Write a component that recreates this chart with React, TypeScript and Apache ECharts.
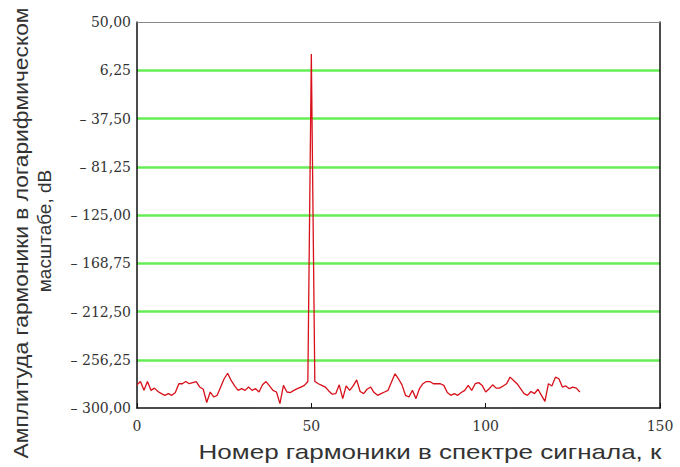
import React, { useEffect, useRef } from "react";
import * as echarts from "echarts";

// Amplitude (dB) of harmonics k = 0..127
const amplitudeDb: number[] = [
  -279, -276, -284, -276, -284, -282, -285, -287, -288.5, -287,
  -288.5, -286, -278, -278, -276, -278, -277, -276, -281, -283,
  -295, -285.5, -290, -288.5, -281, -273.5, -268.5, -275, -280, -284,
  -282.5, -284, -281, -284, -282.5, -285.5, -279, -276, -280, -284,
  -285.5, -296, -279.5, -285.5, -286, -284, -282.5, -281, -279.5, -276,
  21, -276, -278, -279.5, -281, -284.5, -287.5, -287, -279, -291.5,
  -280, -284, -280, -274.5, -285, -287, -283, -281, -286, -288.5,
  -287, -285.5, -284, -276.5, -269, -273.5, -279, -288.5, -290, -284,
  -291.5, -282.5, -278, -276, -276, -278, -278, -278, -279.5, -286,
  -288.5, -287, -288.5, -286, -284, -279.5, -284, -278, -277, -279.5,
  -285.5, -282.5, -279, -282, -282, -280, -278, -272, -275, -278,
  -282.5, -287, -288.5, -285, -287, -283, -288.5, -294, -278, -280,
  -272, -273.5, -281, -280, -282.5, -281, -282, -285.5,
];

const yMin = -300;
const yMax = 50;
const yStep = 43.75;
const xMin = 0;
const xMax = 150;
const xStep = 50;

const yTitleLine1 = "Амплитуда гармоники в логарифмическом";
const yTitleLine2 = "масштабе, dB";
const xTitle = "Номер гармоники в спектре сигнала, к";

const serif = "DejaVu Serif";
const sans = "Liberation Sans";

function fmtY(v: number): string {
  const s = Math.abs(v).toFixed(2).replace(".", ",");
  return v < 0 ? "– " + s : s;
}

export default function App() {
  const ref = useRef<HTMLDivElement>(null);
  useEffect(() => {
    if (!ref.current) return;
    const chart = echarts.init(ref.current, null, { renderer: "svg" });
    const seriesData = amplitudeDb.map((v, k) => [k, v]);
    chart.setOption({
      animation: false,
      backgroundColor: "#ffffff",
      grid: { left: 137, right: 20, top: 22, bottom: 59, containLabel: false },
      xAxis: [
        {
          type: "value",
          min: xMin,
          max: xMax,
          interval: xStep,
          axisLine: { show: true, onZero: false, lineStyle: { color: "#111", width: 1.5 } },
          axisTick: { show: true, inside: true, length: 5, lineStyle: { color: "#111" } },
          axisLabel: {
            margin: 11,
            color: "#333",
            fontFamily: serif,
            fontSize: 14,
          },
          splitLine: { show: false },
        },
        {
          type: "value",
          position: "top",
          min: xMin,
          max: xMax,
          axisLine: { show: true, onZero: false, lineStyle: { color: "#888", width: 1 } },
          axisTick: { show: false },
          axisLabel: { show: false },
          splitLine: { show: false },
        },
      ],
      yAxis: [
        {
          type: "value",
          min: yMin,
          max: yMax,
          interval: yStep,
          axisLine: { show: true, onZero: false, lineStyle: { color: "#111", width: 1.5 } },
          axisTick: { show: false },
          axisLabel: {
            margin: 6,
            color: "#333",
            fontFamily: serif,
            fontSize: 14,
            formatter: (v: number) => fmtY(v),
          },
          splitLine: {
            show: true,
            showMinLine: false,
            showMaxLine: false,
            lineStyle: { color: "#66ee55", width: 2.5 },
          },
        },
        {
          type: "value",
          position: "right",
          min: yMin,
          max: yMax,
          axisLine: { show: true, onZero: false, lineStyle: { color: "#111", width: 1.5 } },
          axisTick: { show: false },
          axisLabel: { show: false },
          splitLine: { show: false },
        },
      ],
      series: [
        {
          type: "line",
          xAxisIndex: 0,
          yAxisIndex: 0,
          data: seriesData,
          showSymbol: false,
          symbol: "none",
          lineStyle: { color: "#d8101a", width: 1.3 },
        },
      ],
      graphic: [
        {
          type: "text",
          x: 21,
          y: 233,
          rotation: Math.PI / 2,
          scaleX: 1.14,
          style: {
            text: yTitleLine1,
            fontFamily: sans,
            fontSize: 20,
            fill: "#333",
            align: "center",
            verticalAlign: "middle",
          },
        },
        {
          type: "text",
          x: 44,
          y: 231,
          rotation: Math.PI / 2,
          style: {
            text: yTitleLine2,
            fontFamily: sans,
            fontSize: 19,
            fill: "#333",
            align: "center",
            verticalAlign: "middle",
          },
        },
        {
          type: "text",
          x: 430,
          y: 452,
          scaleX: 1.3,
          style: {
            text: xTitle,
            fontFamily: sans,
            fontSize: 20,
            fill: "#333",
            align: "center",
            verticalAlign: "middle",
          },
        },
      ],
    });
    return () => chart.dispose();
  }, []);
  return (
    <div
      ref={ref}
      style={{ position: "fixed", left: 0, top: 0, width: 680, height: 467 }}
    />
  );
}
